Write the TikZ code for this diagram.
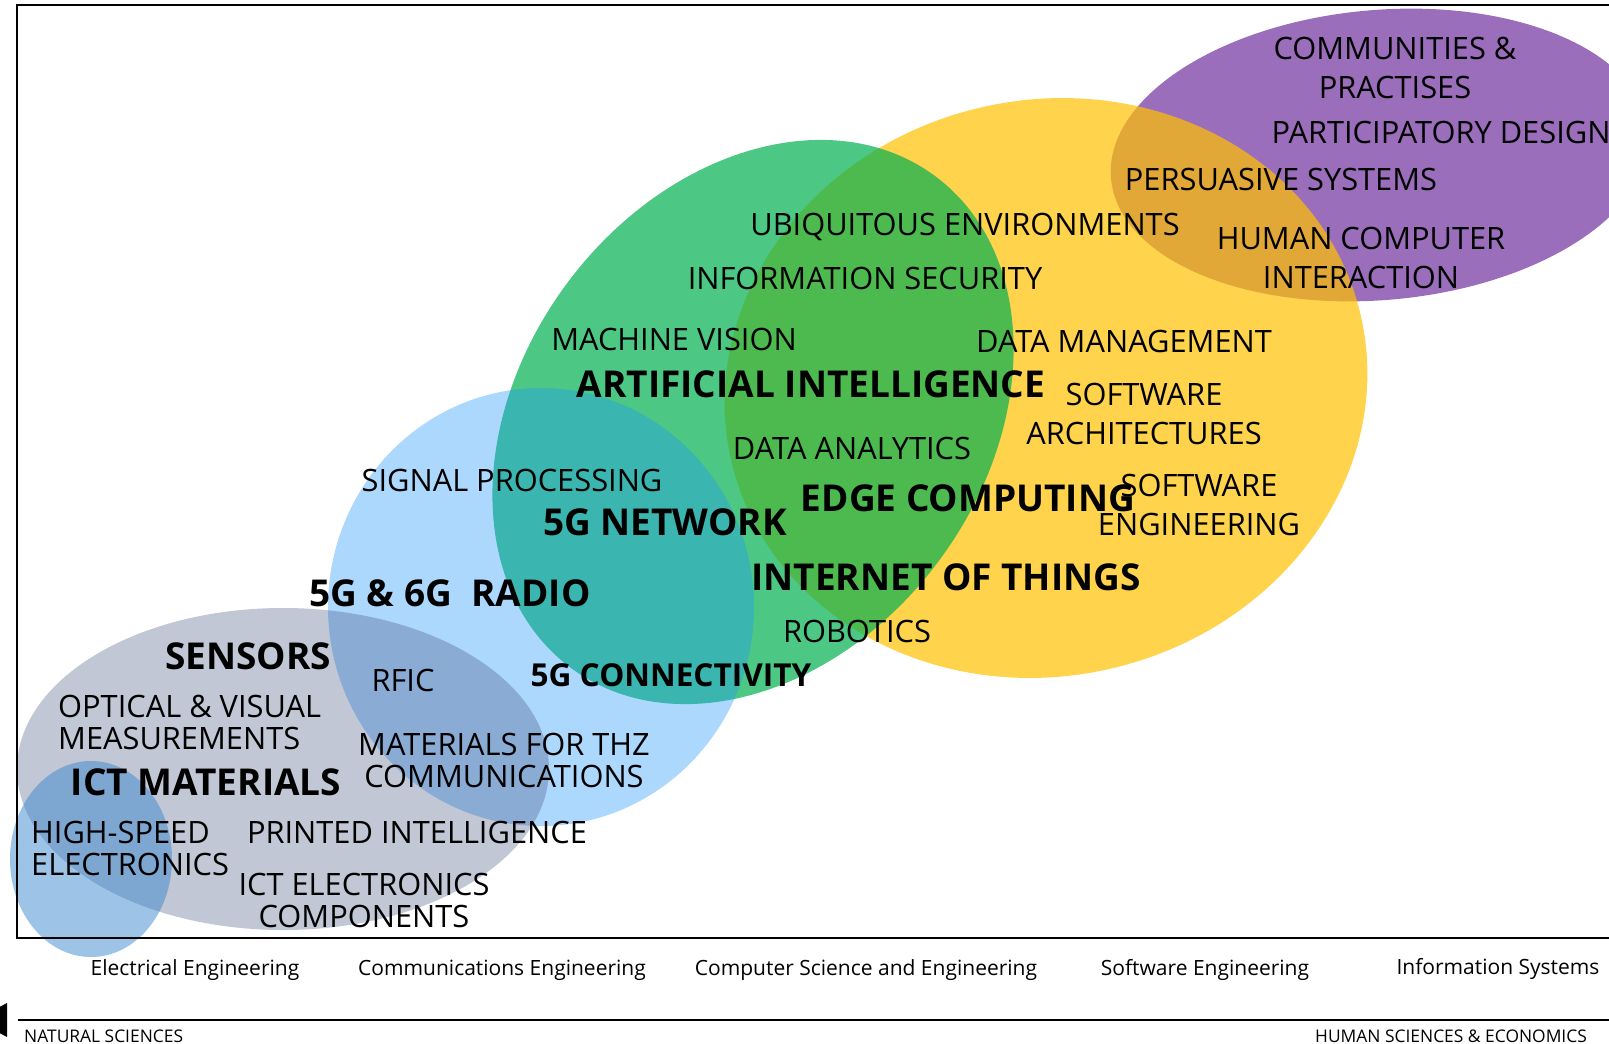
\documentclass[tikz,border=0pt]{standalone}
\usepackage{fontspec}
\setmainfont{Open Sans}
\usepackage{tikz}
\definecolor{purpleC}{RGB}{112,48,160}
\definecolor{yellowC}{RGB}{255,192,0}
\definecolor{greenC}{RGB}{0,176,80}
\definecolor{radioC}{RGB}{27,147,253}
\definecolor{greyC}{RGB}{64,80,124}
\definecolor{speedC}{RGB}{47,128,202}

\begin{document}
\begin{tikzpicture}[x=1pt, y=-1pt,
  lbl/.style={align=center, inner sep=0pt, font=\fontsize{30.8}{32}\selectfont},
  lblwide/.style={lbl, font=\fontsize{30.8}{39}\selectfont},
  key/.style={inner sep=0pt, font=\bfseries\fontsize{37}{38}\selectfont},
  field/.style={inner sep=0pt, font=\fontsize{21}{24}\selectfont},
  side/.style={inner sep=0pt, font=\fontsize{17.4}{20}\selectfont}]
  \useasboundingbox (0,0) rectangle (1609,1044);
  % Areas
  \fill[purpleC, fill opacity=0.7, rotate around={5:(1380,155)}] (1380,155) ellipse [x radius=270, y radius=145];
  \fill[yellowC, fill opacity=0.7, rotate around={13:(1046,388)}] (1046,388) ellipse [x radius=323, y radius=288];
  \fill[greenC, fill opacity=0.7, rotate around={53.5:(753,422)}] (753,422) ellipse [x radius=306, y radius=232];
  \fill[radioC, fill opacity=0.36] (541,607) ellipse [x radius=213, y radius=219];
  \fill[greyC, fill opacity=0.32] (283,769) ellipse [x radius=266, y radius=161];
  \fill[speedC, fill opacity=0.47] (91,859) ellipse [x radius=81, y radius=98];
  % Frame
  \draw[line width=2pt] (1609,5) -- (17,5) -- (17,938) -- (1609,938);
  % Information Systems
  \node[lblwide] (comm) at (1395,68) {COMMUNITIES \&\\PRACTISES};
  \node[lbl] (partic) at (1441,132.5) {PARTICIPATORY DESIGN};
  \node[lbl] (persu) at (1281,179) {PERSUASIVE SYSTEMS};
  \node[lblwide] (hci) at (1361,258) {HUMAN COMPUTER\\INTERACTION};
  % Software Engineering
  \node[lbl] (ubiq) at (965,226.5) {UBIQUITOUS ENVIRONMENTS};
  \node[lbl] (datam) at (1124,341) {DATA MANAGEMENT};
  \node[lblwide] (swarch) at (1144,413.5) {SOFTWARE\\ARCHITECTURES};
  \node[lblwide] (sweng) at (1199,505) {SOFTWARE\\ENGINEERING};
  \node[key] (edge) at (968,498) {EDGE COMPUTING};
  \node[key] (iot) at (946,577) {INTERNET OF THINGS};
  \node[lbl] (robo) at (857,631) {ROBOTICS};
  % Computer Science
  \node[lbl] (infosec) at (865,278) {INFORMATION SECURITY};
  \node[lbl] (vision) at (674,339) {MACHINE VISION};
  \node[key] (ai) at (811,384) {ARTIFICIAL INTELLIGENCE};
  \node[lbl] (analytics) at (852,448) {DATA ANALYTICS};
  % Communications
  \node[lbl] (signal) at (512,480) {SIGNAL PROCESSING};
  \node[key] (net) at (665,522) {5G NETWORK};
  \node[key] (radio) at (450,593) {5G \& 6G\ \ RADIO};
  \node[key, font=\bfseries\fontsize{31.6}{34}\selectfont] (conn) at (671,675) {5G CONNECTIVITY};
  \node[lbl] (rfic) at (403,680) {RFIC};
  \node[lbl] (thz) at (504,760.5) {MATERIALS FOR THZ\\COMMUNICATIONS};
  % Electrical
  \node[key] (sensors) at (248,656) {SENSORS};
  \node[lbl, align=left, anchor=west] (optical) at (58,722) {OPTICAL \& VISUAL\\MEASUREMENTS};
  \node[key] (ictmat) at (206,782) {ICT MATERIALS};
  \node[lbl, align=left, anchor=west] (speed) at (31,848) {HIGH-SPEED\\ELECTRONICS};
  \node[lbl] (printed) at (417,832) {PRINTED INTELLIGENCE};
  \node[lbl] (ictel) at (364,900) {ICT ELECTRONICS\\COMPONENTS};
  % Text Below
  \node[field] (ee) at (195,970) {Electrical Engineering};
  \node[field] (ce) at (502,970) {Communications Engineering};
  \node[field] (cse) at (866,970) {Computer Science and Engineering};
  \node[field] (se) at (1205,970) {Software Engineering};
  \node[field] (is) at (1498,969) {Information Systems};
  % Axis
  \draw[line width=2pt] (18,1020) -- (1609,1020);
  \fill (7,1003) -- (7,1037) -- (-25,1020) -- cycle;
  \node[side, anchor=west] (nat) at (24,1036) {NATURAL SCIENCES};
  \node[side, anchor=east] (hum) at (1587,1036) {HUMAN SCIENCES \& ECONOMICS};
\end{tikzpicture}
\end{document}
